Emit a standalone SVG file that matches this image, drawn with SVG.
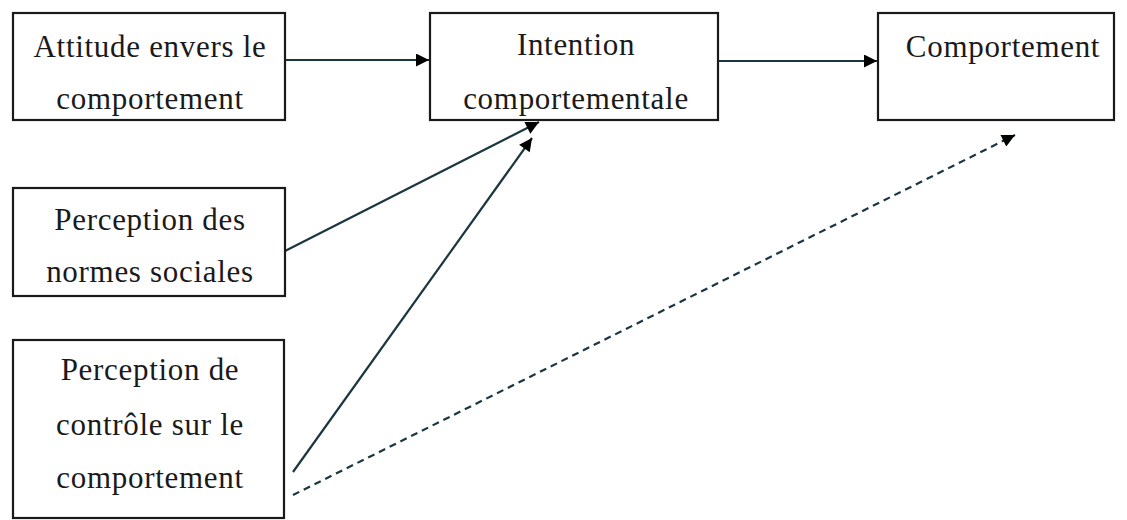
<svg xmlns="http://www.w3.org/2000/svg" width="1127" height="520" viewBox="0 0 1127 520">
<style>
.box{fill:#ffffff;stroke:#1a1a1a;stroke-width:2.2}
.t{font-family:"Liberation Serif","Times New Roman",serif;font-size:31px;fill:#1a1a1a;text-anchor:middle;letter-spacing:0.7px}
.c{stroke:#1c3640;stroke-width:2.2;fill:none}
.d{stroke-dasharray:7 5}
</style>
<defs>
<marker id="ah2" viewBox="0 0 10 10" refX="10" refY="5" markerWidth="15" markerHeight="13" markerUnits="userSpaceOnUse" orient="auto">
<path d="M0,0 L10,5 L0,10 z" fill="#000"/>
</marker>
</defs>
<rect width="1127" height="520" fill="#ffffff"/>
<g id="connectors">
<line class="c" x1="286" y1="60" x2="429" y2="60" marker-end="url(#ah2)"/>
<line class="c" x1="718" y1="61" x2="877" y2="61" marker-end="url(#ah2)"/>
<line class="c" x1="285" y1="251" x2="539" y2="122" marker-end="url(#ah2)"/>
<line class="c" x1="293" y1="472" x2="532" y2="138" marker-end="url(#ah2)"/>
<line class="c d" x1="293" y1="495" x2="1015" y2="135" marker-end="url(#ah2)"/>
</g>
<g id="attitude">
<rect class="box" x="13" y="13" width="272" height="107"/>
<text class="t" x="150" y="57">Attitude envers le</text>
<text class="t" x="150" y="109">comportement</text>
</g>
<g id="intention">
<rect class="box" x="430" y="13" width="288" height="107"/>
<text class="t" x="576" y="55">Intention</text>
<text class="t" x="576" y="109">comportementale</text>
</g>
<g id="comportement">
<rect class="box" x="878" y="13" width="236" height="107"/>
<text class="t" x="1003" y="57">Comportement</text>
</g>
<g id="normes">
<rect class="box" x="13" y="188" width="272" height="108"/>
<text class="t" x="150" y="230">Perception des</text>
<text class="t" x="150" y="282">normes sociales</text>
</g>
<g id="controle">
<rect class="box" x="13" y="340" width="271" height="178"/>
<text class="t" x="150" y="380">Perception de</text>
<text class="t" x="150" y="435">contrôle sur le</text>
<text class="t" x="150" y="488">comportement</text>
</g>
</svg>
